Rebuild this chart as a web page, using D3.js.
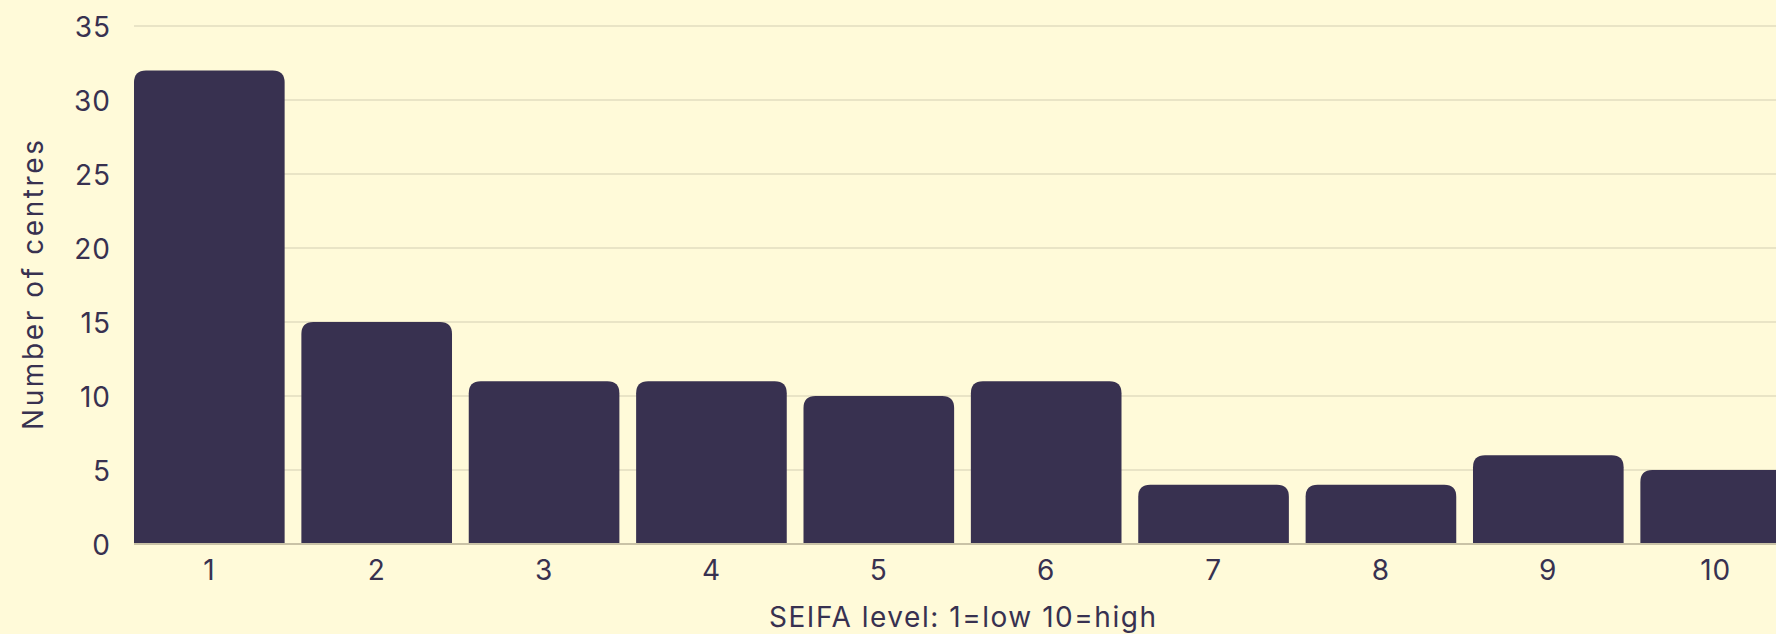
<!DOCTYPE html>
<html>
<head>
<meta charset="utf-8">
<script src="https://cdn.jsdelivr.net/npm/d3@7"></script>
<style>
  html, body { margin: 0; padding: 0; background: #fffad9; overflow: hidden; }
  svg { display: block; }
  text { font-family: Inter, "Noto Sans", sans-serif; fill: #383150; }
</style>
</head>
<body>
<svg id="chart" width="1776" height="634"></svg>
<script>
// SEIFA levels and the number of centres in each
const categories = ["1", "2", "3", "4", "5", "6", "7", "8", "9", "10"];
const centres = [32, 15, 11, 11, 10, 11, 4, 4, 6, 5];
const yTicks = [0, 5, 10, 15, 20, 25, 30, 35];
const xTitle = "SEIFA level: 1=low 10=high";
const yTitle = "Number of centres";

const svg = d3.select("#chart");
const W = 1776, H = 634;
const margin = { left: 134, top: 26, bottom: 90 };
const plotRight = 1791;
const baseline = H - margin.bottom;

const x = d3.scaleBand()
  .domain(categories)
  .range([margin.left, plotRight])
  .paddingInner(0.1)
  .paddingOuter(0);

const y = d3.scaleLinear()
  .domain([0, 35])
  .range([baseline, margin.top]);

// horizontal gridlines
svg.append("g")
  .selectAll("line")
  .data(yTicks.filter(d => d > 0))
  .join("line")
  .attr("x1", margin.left)
  .attr("x2", W)
  .attr("y1", d => y(d))
  .attr("y2", d => y(d))
  .attr("stroke", "#e2dcbf")
  .attr("stroke-width", 1.5);

// baseline
svg.append("line")
  .attr("x1", margin.left)
  .attr("x2", W)
  .attr("y1", y(0))
  .attr("y2", y(0))
  .attr("stroke", "#c9c2a6")
  .attr("stroke-width", 2);

// bars with rounded top corners
const r = 12;
function barPath(x0, w, yTop, yBot) {
  const rr = Math.min(r, (yBot - yTop), w / 2);
  return `M${x0},${yBot}V${yTop + rr}Q${x0},${yTop} ${x0 + rr},${yTop}` +
         `H${x0 + w - rr}Q${x0 + w},${yTop} ${x0 + w},${yTop + rr}V${yBot}Z`;
}
svg.append("g")
  .selectAll("path")
  .data(categories.map((c, i) => ({ c, v: centres[i] })))
  .join("path")
  .attr("d", d => barPath(x(d.c), x.bandwidth(), y(d.v), y(0) - 1))
  .attr("fill", "#383150");

// y axis labels
const yAxis = d3.axisLeft(y).tickValues(yTicks).tickSize(0).tickPadding(0);
const gy = svg.append("g")
  .attr("transform", `translate(${margin.left - 23},0)`)
  .call(yAxis);
gy.select(".domain").remove();
gy.selectAll("text")
  .attr("font-size", 28)
  .attr("font-family", "Inter, 'Noto Sans', sans-serif")
  .attr("fill", "#383150")
  .attr("letter-spacing", 1)
  .attr("dy", "0.36em");

// x axis labels
const xAxis = d3.axisBottom(x).tickSize(0).tickPadding(0);
const gx = svg.append("g")
  .attr("transform", `translate(0,${baseline})`)
  .call(xAxis);
gx.select(".domain").remove();
gx.selectAll("text")
  .attr("font-size", 28)
  .attr("font-family", "Inter, 'Noto Sans', sans-serif")
  .attr("fill", "#383150")
  .attr("letter-spacing", 1)
  .attr("dy", null)
  .attr("y", 36);

// axis titles
svg.append("text")
  .attr("x", (margin.left + plotRight) / 2)
  .attr("y", 627)
  .attr("text-anchor", "middle")
  .attr("font-size", 28)
  .attr("textLength", 387)
  .attr("lengthAdjust", "spacing")
  .text(xTitle);

svg.append("text")
  .attr("transform", `translate(43,${(margin.top + baseline) / 2}) rotate(-90)`)
  .attr("text-anchor", "middle")
  .attr("font-size", 28)
  .attr("textLength", 290)
  .attr("lengthAdjust", "spacing")
  .text(yTitle);
</script>
</body>
</html>
